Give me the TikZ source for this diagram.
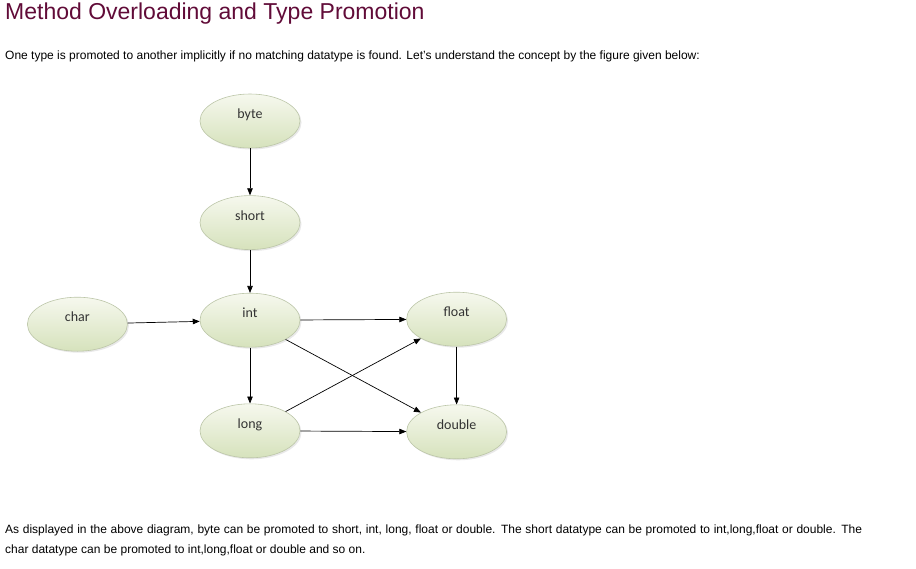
\documentclass[tikz,border=0pt]{standalone}
\usepackage{fontspec}
\setmainfont{Liberation Sans}
\newfontfamily\calfont{Carlito}
\usepackage{tikz}
\usetikzlibrary{arrows.meta,positioning,shapes.geometric,shadows}
\definecolor{headred}{HTML}{610B38}
\definecolor{elltop}{RGB}{246,248,238}
\definecolor{ellbot}{RGB}{214,226,188}
\definecolor{ellline}{RGB}{188,198,168}
\tikzset{
  typ/.style={ellipse,draw=ellline,line width=0.6pt,top color=elltop,bottom color=ellbot,
    minimum width=100pt,minimum height=54pt,inner sep=0pt,text height=8pt,text depth=13pt,
    font=\calfont\fontsize{14pt}{16pt}\selectfont,text=black!80,
    drop shadow={shadow xshift=1.5pt,shadow yshift=-1.5pt,opacity=0.18}},
  arr/.style={-{Triangle[length=7pt,width=5.5pt]},line width=0.7pt},
  txt/.style={anchor=base west,inner sep=0pt,font=\fontsize{12pt}{14pt}\selectfont}
}

\begin{document}
\begin{tikzpicture}[x=1pt,y=-1pt]
\fill[white] (0,0) rectangle (916,568);
\useasboundingbox (0,0) rectangle (916,568);
% heading and text
\node[txt,font=\fontsize{23pt}{26pt}\selectfont,text=headred] (title) at (5,19) {Method Overloading and Type Promotion};
\node[txt] (intro) at (5,59) {One type is promoted to another implicitly if no matching datatype is found. Let's understand the concept by the figure given below:};
\node[txt] (note1) at (5,533) {\hbox to 857pt{As displayed in the above diagram, byte can be promoted to short, int, long, float or double. The short datatype can be promoted to int,long,float or double. The}};
\node[txt] (note2) at (5,553) {char datatype can be promoted to int,long,float or double and so on.};
% type promotion graph
\node[typ] (byte) at (250,121) {byte};
\node[typ,below=47pt of byte] (short) {short};
\node[typ,below=43pt of short] (int) {int};
\node[typ,below=56pt of int] (long) {long};
\node[typ,left=72pt of int,yshift=-4pt] (char) {char};
\node[typ,right=106pt of int,yshift=1pt] (float) {float};
\node[typ,right=106pt of long,yshift=-1pt] (double) {double};
\draw[arr] (byte) -- (short); \draw[arr] (short) -- (int);
\draw[arr] (char) -- (int); \draw[arr] (int) -- (long);
\draw[arr] (int) -- (float); \draw[arr] (int) -- (double);
\draw[arr] (long) -- (float); \draw[arr] (long) -- (double);
\draw[arr] (float) -- (double);
\end{tikzpicture}
\end{document}
